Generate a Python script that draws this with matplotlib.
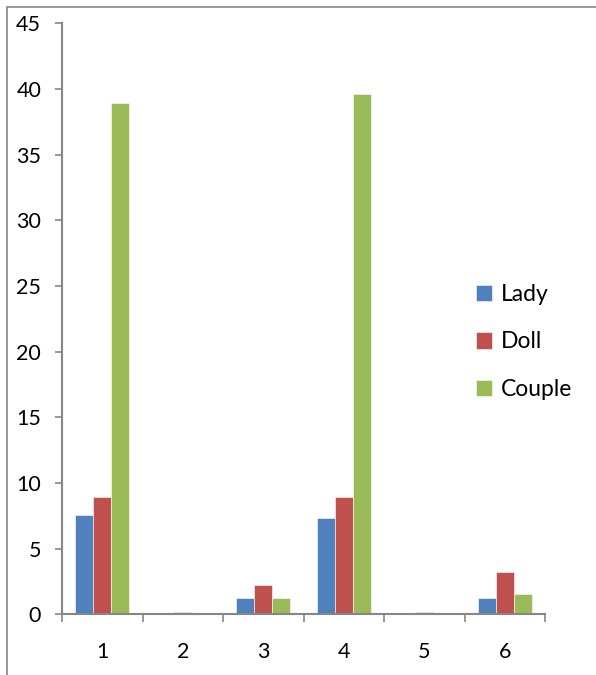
import matplotlib.pyplot as plt
import numpy as np
from matplotlib.patches import Rectangle

plt.rcParams['font.family'] = ['Lato', 'DejaVu Sans']

categories = ["1", "2", "3", "4", "5", "6"]
lady = [7.55, 0.0, 1.22, 7.33, 0.0, 1.24]
doll = [8.9, 0.15, 2.24, 8.93, 0.15, 3.23]
couple = [38.9, 0.1, 1.22, 39.6, 0.08, 1.53]

series = [("Lady", lady, "#4F81BD"), ("Doll", doll, "#C0504D"), ("Couple", couple, "#9BBB59")]

fig = plt.figure(figsize=(5.96, 6.75), dpi=100)
ax = fig.add_axes([62 / 596, 1 - 614.3 / 675, (545 - 62) / 596, (614.3 - 23.3) / 675])

# outer chart border
fig.patches.append(Rectangle((7 / 596, -0.1), 1.2, 1 - 7 / 675 + 0.1, transform=fig.transFigure,
                             fill=False, edgecolor="#868686", linewidth=1.2))

x = np.arange(1, len(categories) + 1)
w = 0.223
for i, (name, vals, color) in enumerate(series):
    ax.bar(x + (i - 1) * w, vals, width=w, color=color, label=name,
           edgecolor="white", linewidth=0.4)

ax.set_xlim(0.5, 6.5)
ax.set_ylim(0, 45)
ax.set_yticks(range(0, 46, 5))
ax.set_xticks(x)
ax.set_xticklabels(categories)
ax.set_xticks(np.arange(0.5, 6.6, 1), minor=True)

for s in ["top", "right"]:
    ax.spines[s].set_visible(False)
for s in ["left", "bottom"]:
    ax.spines[s].set_color("#868686")
    ax.spines[s].set_linewidth(1.5)

ax.tick_params(axis="y", direction="out", length=5, width=1.2, color="#868686",
               labelsize=15.5, pad=10)
ax.tick_params(axis="x", which="major", length=0, labelsize=15.5, pad=20)
ax.tick_params(axis="x", which="minor", direction="out", length=6, width=1.2, color="#868686")

ax.legend(loc="center left", bbox_to_anchor=(455 / 596, 1 - 342 / 675),
          bbox_transform=fig.transFigure, frameon=False, fontsize=16.5,
          handlelength=0.7, handleheight=0.7, handletextpad=0.4, labelspacing=1.15)

plt.savefig("out.png", dpi=100)
